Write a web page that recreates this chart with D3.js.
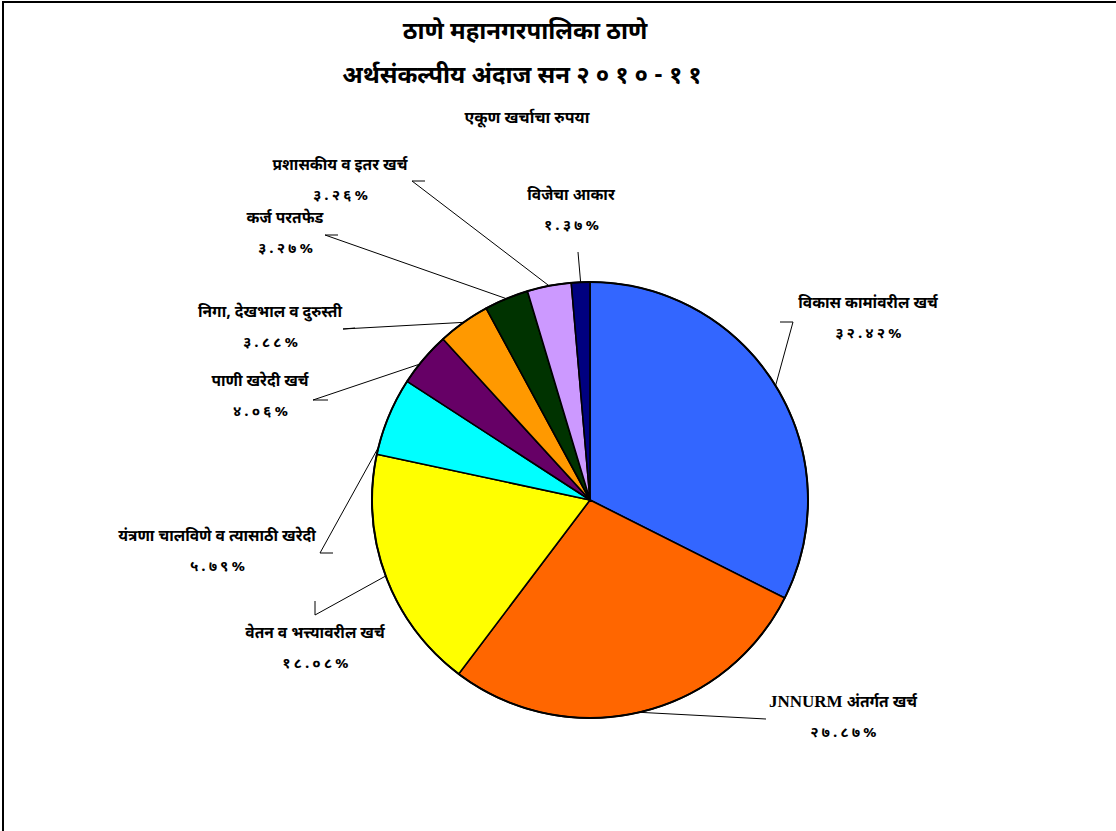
<!DOCTYPE html>
<html>
<head>
<meta charset="utf-8">
<script src="https://cdn.jsdelivr.net/npm/d3@7"></script>
<style>
  body { margin: 0; background: #fff; }
  svg text { font-family: "Noto Sans Devanagari", "Noto Serif Devanagari", "Lohit Devanagari", "Liberation Serif", serif; font-weight: bold; fill: #000; }
</style>
</head>
<body>
<svg id="chart" width="1116" height="831"></svg>
<script>
  "use strict";

  // categories, clockwise from 12 o'clock
  var categories = [
    "विकास कामांवरील खर्च",
    "JNNURM अंतर्गत खर्च",
    "वेतन व भत्त्यावरील खर्च",
    "यंत्रणा चालविणे व त्यासाठी खरेदी",
    "पाणी खरेदी खर्च",
    "निगा, देखभाल व दुरुस्ती",
    "कर्ज परतफेड",
    "प्रशासकीय व इतर खर्च",
    "विजेचा आकार"
  ];
  var values = [32.42, 27.87, 18.08, 5.79, 4.06, 3.88, 3.27, 3.26, 1.37];
  var pctLabels = ["३२.४२%", "२७.८७%", "१८.०८%", "५.७९%", "४.०६%", "३.८८%", "३.२७%", "३.२६%", "१.३७%"];
  var colors = ["#3366FF", "#FF6600", "#FFFF00", "#00FFFF", "#660066", "#FF9900", "#003300", "#CC99FF", "#000080"];

  // label layout (manual, like the original): centre of label, leader elbow points, where on slice the leader lands
  var labelPos = [
    {x: 868, y: 303, elbow: [[793, 322], [780, 322]], at: 0.5},
    {x: 843, y: 702, elbow: [[766, 719]], at: 0.5},
    {x: 315, y: 633, elbow: [[315, 615], [315, 601]], at: 0.5},
    {x: 217, y: 536, elbow: [[320, 553], [333, 553]], at: 0.09},
    {x: 260, y: 381, elbow: [[313, 400], [328, 400]], at: 0.38},
    {x: 270, y: 312, elbow: [[343, 329], [355, 328]], at: 0.5},
    {x: 285, y: 218, elbow: [[325, 235], [338, 235]], at: 0.5},
    {x: 340, y: 165, elbow: [[412, 181], [425, 181]], at: 0.5},
    {x: 571, y: 195, elbow: [[578, 252]], at: 0.5}
  ];

  var title1 = "ठाणे महानगरपालिका ठाणे";
  var title2 = "अर्थसंकल्पीय अंदाज सन ";
  var title2Year = "२०१०-११";
  var subtitle = "एकूण खर्चाचा रुपया";

  var svg = d3.select("#chart");
  var cx = 590, cy = 500, r = 218;

  // frame
  svg.append("rect")
    .attr("x", 3).attr("y", 2)
    .attr("width", 1200).attr("height", 900)
    .attr("fill", "none").attr("stroke", "#000").attr("stroke-width", 2);

  svg.append("text").attr("x", 525).attr("y", 39)
    .attr("text-anchor", "middle").style("font-size", "24px")
    .text(title1);
  var t2 = svg.append("text").attr("x", 525).attr("y", 83)
    .attr("text-anchor", "middle").style("font-size", "24px");
  t2.append("tspan").text(title2);
  t2.append("tspan").style("letter-spacing", "6px").text(title2Year);
  svg.append("text").attr("x", 527).attr("y", 123)
    .attr("text-anchor", "middle").style("font-size", "16px")
    .text(subtitle);

  var data = categories.map(function(c, i) {
    return {name: c, value: values[i], pct: pctLabels[i], color: colors[i], lab: labelPos[i]};
  });

  var pie = d3.pie().sort(null).value(d => d.value);
  var arcs = pie(data);
  var arc = d3.arc().innerRadius(0).outerRadius(r);

  var g = svg.append("g").attr("transform", "translate(" + cx + "," + cy + ")");

  g.selectAll("path.slice")
    .data(arcs)
    .enter().append("path")
    .attr("class", "slice")
    .attr("d", arc)
    .attr("fill", d => d.data.color)
    .attr("stroke", "#000")
    .attr("stroke-width", 1.6)
    .attr("stroke-linejoin", "round");

  g.append("circle").attr("r", r)
    .attr("fill", "none").attr("stroke", "#000").attr("stroke-width", 2);

  // leader lines
  var line = d3.line();
  svg.append("g").selectAll("path")
    .data(arcs)
    .enter().append("path")
    .attr("fill", "none")
    .attr("stroke", "#000")
    .attr("stroke-width", 1)
    .attr("d", function(d) {
      var a = d.startAngle + (d.endAngle - d.startAngle) * d.data.lab.at;
      var p = [cx + r * Math.sin(a), cy - r * Math.cos(a)];
      var pts = d.data.lab.elbow.slice().reverse();
      pts.push(p);
      return line(pts);
    });

  // labels
  var lab = svg.append("g").selectAll("g")
    .data(arcs)
    .enter().append("g");
  lab.append("text")
    .attr("x", d => d.data.lab.x)
    .attr("y", d => d.data.lab.y + 5)
    .attr("text-anchor", "middle")
    .style("font-size", "15.5px")
    .each(function(d) {
      var t = d3.select(this);
      var m = d.data.name.match(/^([A-Z]+)(.*)$/);
      if (m) {
        t.append("tspan").style("font-family", "'Liberation Serif', serif").style("font-size", "17px").text(m[1]);
        t.append("tspan").text(m[2]);
      } else {
        t.text(d.data.name);
      }
    });
  lab.append("text")
    .attr("x", d => d.data.lab.x + 2)
    .attr("y", d => d.data.lab.y + 35)
    .attr("text-anchor", "middle")
    .style("font-size", "15px")
    .style("letter-spacing", "3px")
    .text(d => d.data.pct);
</script>
</body>
</html>
